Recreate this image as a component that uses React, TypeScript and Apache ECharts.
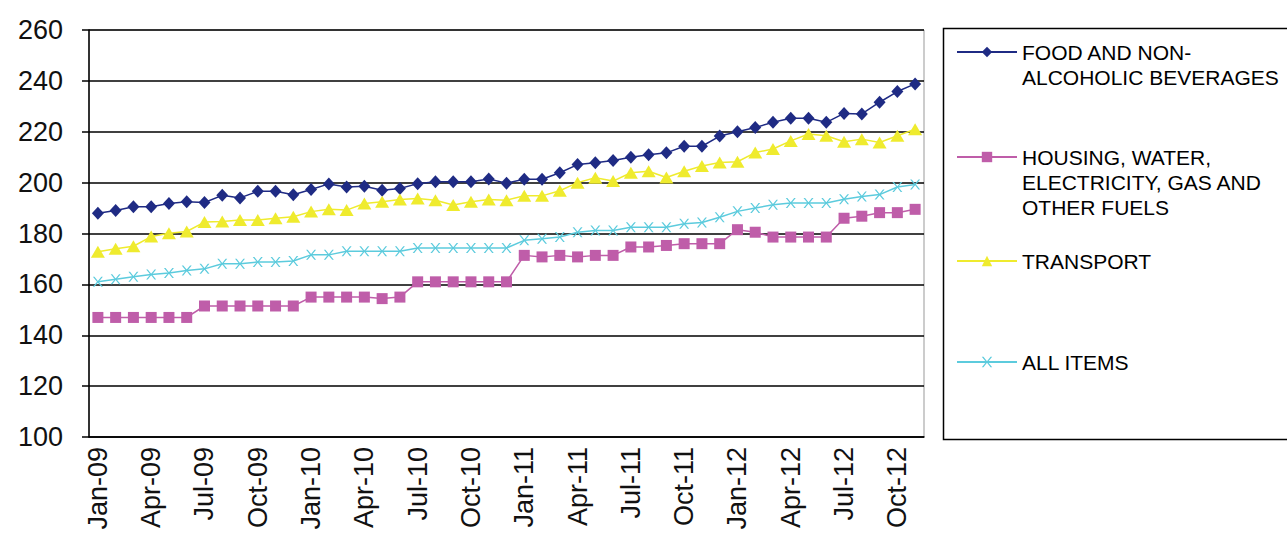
import React, { useEffect, useRef } from 'react';
import * as echarts from 'echarts';

const months = [
  'Jan-09', 'Feb-09', 'Mar-09', 'Apr-09', 'May-09', 'Jun-09', 'Jul-09', 'Aug-09', 'Sep-09', 'Oct-09', 'Nov-09', 'Dec-09',
  'Jan-10', 'Feb-10', 'Mar-10', 'Apr-10', 'May-10', 'Jun-10', 'Jul-10', 'Aug-10', 'Sep-10', 'Oct-10', 'Nov-10', 'Dec-10',
  'Jan-11', 'Feb-11', 'Mar-11', 'Apr-11', 'May-11', 'Jun-11', 'Jul-11', 'Aug-11', 'Sep-11', 'Oct-11', 'Nov-11', 'Dec-11',
  'Jan-12', 'Feb-12', 'Mar-12', 'Apr-12', 'May-12', 'Jun-12', 'Jul-12', 'Aug-12', 'Sep-12', 'Oct-12', 'Nov-12',
];

const food = [
  188, 189, 190.5, 190.5, 191.8, 192.5, 192.2, 195, 194, 196.6, 196.6, 195.2,
  197.3, 199.5, 198.3, 198.6, 197, 197.7, 199.6, 200.3, 200.3, 200.3, 201.4, 199.8,
  201.3, 201.3, 203.9, 207.1, 207.8, 208.7, 210, 211, 211.7, 214.3, 214.3, 218.3,
  220, 221.7, 223.7, 225.3, 225.3, 223.7, 227.2, 227, 231.6, 235.8, 238.8,
];

const housing = [
  147, 147, 147, 147, 147, 147, 151.5, 151.5, 151.5, 151.5, 151.5, 151.5,
  155, 155, 155, 155, 154.4, 155, 161, 161, 161, 161, 161, 161,
  171.4, 170.8, 171.4, 170.8, 171.4, 171.4, 174.7, 174.7, 175.3, 176, 176, 176,
  181.5, 180.5, 178.6, 178.6, 178.6, 178.6, 186, 186.8, 188.2, 188.2, 189.5,
];

const transport = [
  172.8, 174, 175, 178.8, 180.1, 180.8, 184.5, 184.7, 185.3, 185.3, 186, 186.6,
  188.6, 189.5, 189.2, 191.8, 192.5, 193.4, 193.8, 193.1, 191.2, 192.5, 193.4, 193.1,
  194.8, 194.8, 196.8, 200, 201.9, 200.6, 203.9, 204.5, 202, 204.5, 206.5, 207.9,
  208.2, 211.8, 213.2, 216.4, 219.1, 218.4, 216.1, 217.1, 215.8, 218.4, 221,
];

const allItems = [
  161, 162, 163, 163.9, 164.5, 165.5, 166.1, 168.1, 168.1, 168.8, 168.8, 169.2,
  171.6, 171.6, 173, 173, 173, 173, 174.3, 174.3, 174.3, 174.3, 174.3, 174.3,
  177.3, 177.9, 178.6, 180.5, 181.2, 181.2, 182.5, 182.5, 182.5, 183.8, 184.3, 186.4,
  188.7, 190, 191.3, 192, 192, 192, 193.5, 194.5, 195.3, 198.3, 199.3,
];

const seriesNames = [
  'FOOD AND NON-ALCOHOLIC BEVERAGES',
  'HOUSING, WATER, ELECTRICITY, GAS AND OTHER FUELS',
  'TRANSPORT',
  'ALL ITEMS',
];

const legendLines = [
  ['FOOD AND NON-', 'ALCOHOLIC BEVERAGES'],
  ['HOUSING, WATER,', 'ELECTRICITY, GAS AND', 'OTHER FUELS'],
  ['TRANSPORT'],
  ['ALL ITEMS'],
];

const yTicks = [100, 120, 140, 160, 180, 200, 220, 240, 260];

const crossPath =
  'path://M0,0 L1.6,0 L5,4.2 L8.4,0 L10,0 L5.9,5 L10,10 L8.4,10 L5,5.8 L1.6,10 L0,10 L4.1,5 Z';

export default function App() {
  const ref = useRef<HTMLDivElement>(null);

  useEffect(() => {
    const chart = echarts.init(ref.current as HTMLDivElement, null, { renderer: 'svg' });
    const axisFont = 'Liberation Sans';
    const L = 25;
    const legendCenters = [52, 157, 261, 362];

    const legends = seriesNames.map((name, i) => {
      const lines = legendLines[i];
      const n = lines.length;
      const H = (2 * n - 1) * L;
      const text = new Array(n - 1).fill(' ').concat(lines).join('\n');
      return {
        data: [name],
        orient: 'vertical',
        left: 956,
        top: legendCenters[i] - H / 2,
        padding: 0,
        itemWidth: 60,
        itemHeight: 13,
        itemGap: 0,
        selectedMode: false,
        formatter: () => text,
        textStyle: {
          fontFamily: axisFont,
          fontSize: 21,
          color: '#000',
          lineHeight: L,
        },
      };
    });

    const colors = ['#1F2B84', '#BF5DA9', '#EFEB2E', '#5CCBDD'];
    const symbols = ['diamond', 'rect', 'triangle', crossPath];
    const sizes: any[] = [[12, 13], 11, [14, 12], [10, 10]];
    const datasets = [food, housing, transport, allItems];

    chart.setOption({
      animation: false,
      backgroundColor: '#fff',
      grid: {
        left: 89,
        top: 30,
        width: 835,
        height: 407,
        containLabel: false,
        outerBoundsMode: 'none',
        show: true,
        borderColor: '#999',
        borderWidth: 1,
        backgroundColor: 'transparent',
      },
      legend: legends,
      xAxis: {
        type: 'category',
        data: months,
        boundaryGap: true,
        axisLine: { lineStyle: { color: '#000', width: 1.5 } },
        axisTick: { interval: 2, length: 7, lineStyle: { color: '#000', width: 1.5 } },
        axisLabel: {
          interval: 2,
          rotate: 90,
          margin: 10,
          fontFamily: axisFont,
          fontSize: 27,
          color: '#111',
        },
        splitLine: { show: false },
      },
      yAxis: {
        type: 'value',
        min: yTicks[0],
        max: yTicks[yTicks.length - 1],
        interval: 20,
        axisLine: { show: true, lineStyle: { color: '#000', width: 1.5 } },
        axisTick: { show: true, length: 7, lineStyle: { color: '#000', width: 1.5 } },
        axisLabel: {
          margin: 26,
          fontFamily: axisFont,
          fontSize: 27,
          color: '#111',
        },
        splitLine: { show: true, lineStyle: { color: '#000', width: 1.5 } },
      },
      graphic: [
        {
          type: 'rect',
          shape: { x: 943.5, y: 28.5, width: 400, height: 411 },
          style: { fill: 'none', stroke: '#000', lineWidth: 1.5 },
          z: -1,
          silent: true,
        },
      ],
      series: seriesNames.map((name, i) => ({
        name,
        type: 'line',
        data: datasets[i],
        symbol: symbols[i],
        symbolSize: sizes[i],
        showAllSymbol: true,
        itemStyle: { color: colors[i], borderWidth: 0 },
        lineStyle: { color: colors[i], width: 1.5 },
        emphasis: { disabled: true },
      })),
    });

    return () => chart.dispose();
  }, []);

  return (
    <div
      ref={ref}
      style={{ position: 'fixed', left: 0, top: 0, width: 1287, height: 539, background: '#fff' }}
    />
  );
}
